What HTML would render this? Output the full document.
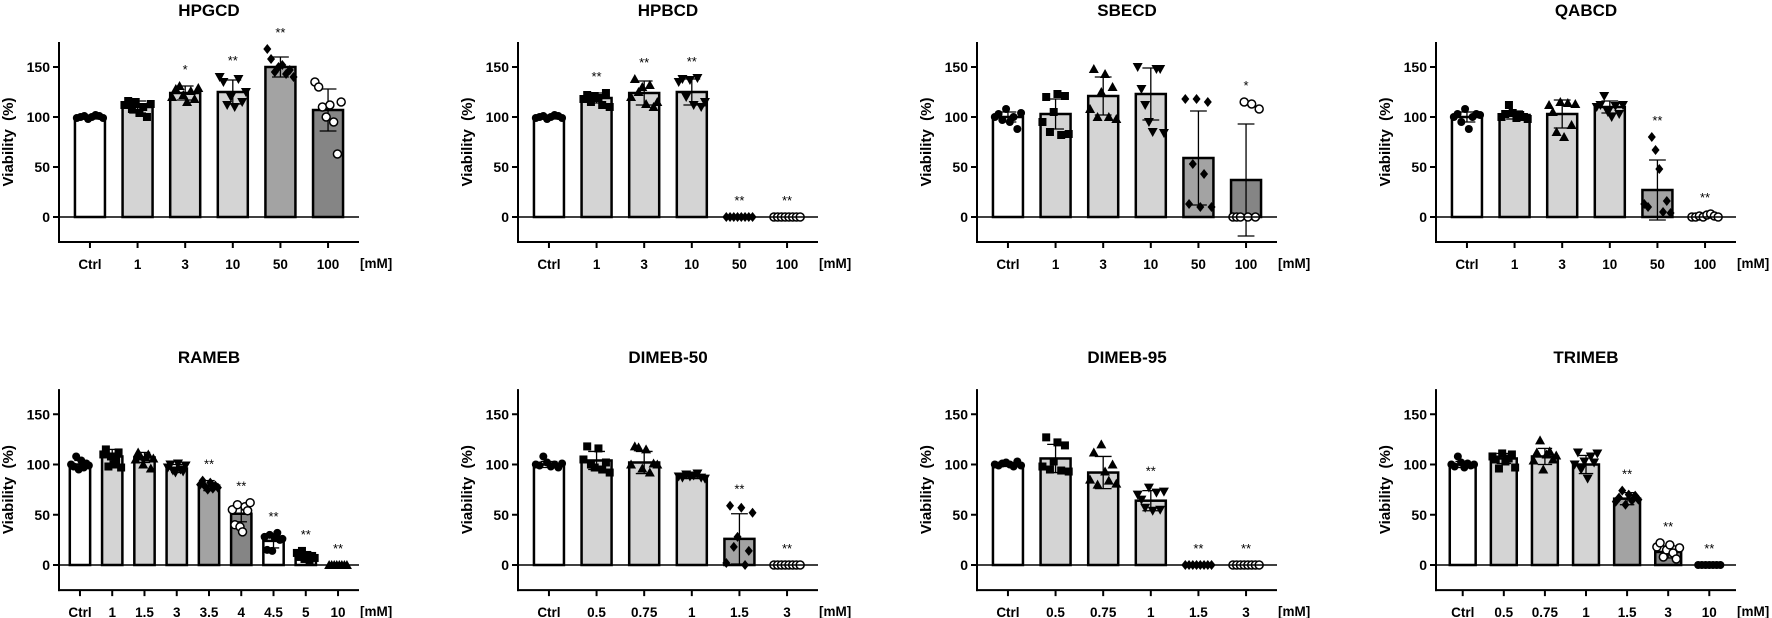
<!DOCTYPE html>
<html><head><meta charset="utf-8"><style>
html,body{margin:0;padding:0;background:#fff;}
svg{display:block;font-family:"Liberation Sans",Arial,sans-serif;}
.pre{white-space:pre;}
</style></head><body>
<svg id="fig" width="1772" height="618" viewBox="0 0 1772 618" xmlns="http://www.w3.org/2000/svg"></svg>
<script>
const titles=["HPGCD","HPBCD","SBECD","QABCD","RAMEB","DIMEB-50","DIMEB-95","TRIMEB"];
const categories=[
["Ctrl","1","3","10","50","100"],["Ctrl","1","3","10","50","100"],["Ctrl","1","3","10","50","100"],["Ctrl","1","3","10","50","100"],
["Ctrl","1","1.5","3","3.5","4","4.5","5","10"],["Ctrl","0.5","0.75","1","1.5","3"],["Ctrl","0.5","0.75","1","1.5","3"],["Ctrl","0.5","0.75","1","1.5","3","10"]];
const means=[
[100,110,124,125,150,107],[100,119,124,125,0,0],[100,103,121,123,59,37],[100,102,103,110,27,1],
[100,108,107,96,79,51,24,9,0],[100,104,102,88,26,0],[100,106,92,64,0,0],[100,106,108,100,66,13,0]];
const sds=[
[2,6,7,12,10,21],[2,5,12,13,0,0],[5,15,19,26,47,56],[5,4,14,6,30,1],
[4,7,5,4,5,8,7,4,0],[3,9,11,2,25,0],[2,14,16,10,0,0],[3,5,8,9,6,6,0]];
const fills=[
["W","L","L","L","M","D"],["W","L","L","L","M","D"],["W","L","L","L","M","D"],["W","L","L","L","M","D"],
["W","L","L","L","M","D","W","W","W"],["W","L","L","L","M","D"],["W","L","L","L","M","D"],["W","L","L","L","M","D","W"]];
const stars=[
["","","*","**","**",""],["","**","**","**","**","**"],["","","","","","*"],["","","","","**","**"],
["","","","","**","**","**","**","**"],["","","","","**","**"],["","","","**","**","**"],["","","","","**","**","**"]];
const points=[
[[99,100,101,98,100,102,101,99],[112,116,108,115,104,110,100,113],[120,128,131,122,115,126,118,129],[140,135,112,120,110,138,115,125],[168,158,145,150,152,143,147,140],[135,130,110,100,112,95,63,115]],
[[99,100,101,98,100,102,101,99],[118,122,115,121,119,112,124,110],[120,138,125,130,113,132,110,115],[135,138,120,137,112,139,110,115],[0,0,0,0,0,0,0,0],[0,0,0,0,0,0,0,0]],
[[100,103,97,108,95,100,88,104],[95,120,85,105,123,82,121,83],[108,148,100,125,143,100,130,98],[150,128,112,95,85,148,148,84],[118,13,53,118,10,43,115,10],[0,0,0,115,0,113,0,108]],
[[100,103,95,108,88,100,103,102],[100,103,112,104,99,102,100,98],[112,105,85,115,80,114,92,113],[110,112,121,105,100,111,103,112],[13,10,80,67,48,5,16,4],[0,0,1,0,2,3,1,0]],
[[100,98,108,95,104,97,101,99],[110,115,98,108,100,104,112,97],[105,112,108,100,107,110,96,106],[97,100,94,92,101,95,93,99],[80,84,78,75,82,76,79,77],[55,40,60,38,33,58,54,62],[28,15,30,14,27,32,25,26],[12,8,14,6,10,5,9,7],[0,0,0,0,0,0,0,0]],
[[100,99,108,102,98,100,97,101],[105,118,100,97,116,95,102,92],[100,118,117,96,115,92,101,100],[88,87,90,88,89,91,87,86],[2,59,18,28,57,0,14,52],[0,0,0,0,0,0,0,0]],
[[100,99,101,102,100,98,103,99],[98,127,95,103,122,94,119,93],[85,112,80,120,93,84,100,81],[70,65,57,77,54,72,55,73],[0,0,0,0,0,0,0,0],[0,0,0,0,0,0,0,0]],
[[100,98,108,102,97,101,99,100],[108,105,96,111,103,106,110,97],[104,112,124,95,110,113,105,109],[100,112,95,103,86,108,102,111],[63,67,74,60,70,64,69,65],[18,22,8,15,20,12,6,17],[0,0,0,0,0,0,0]]];
const yTicks=[150,100,50,0];

const colorMap={W:"#ffffff",L:"#d4d4d4",M:"#a3a3a3",D:"#858585"};
const markerTypes=["circle","square","triup","tridown","diamond","ocircle","circle","square","triup"];
const NS="http://www.w3.org/2000/svg";
const svg=document.getElementById("fig");
function mk(tag,attrs,parent){const e=document.createElementNS(NS,tag);for(const k in attrs)e.setAttribute(k,attrs[k]);(parent||svg).appendChild(e);return e;}

titles.forEach((title,p)=>{
  const row=Math.floor(p/4),col=p%4;
  const ax=59+col*459;
  const zero=row===0?217:565;
  const k=row===0?1.0:1.005;
  const y=v=>zero-v*k;
  const axLen=300;
  const n=categories[p].length;
  const s=axLen/(n-1+1.3);
  const pad=0.65*s;
  const bw=0.63*s;
  const xc=i=>ax+pad+i*s;
  const g=mk("g",{});
  
  
  const t=mk("text",{x:ax+150,y:(row===0?16:363),"text-anchor":"middle","font-size":"17","font-weight":"bold"},g);
  t.textContent=title;
  
  
  const yl=mk("text",{x:0,y:0,class:"pre",transform:`translate(${ax-46},${(y(175)+y(-25))/2}) rotate(-90)`,"text-anchor":"middle","font-size":"15","font-weight":"bold"},g);
  yl.textContent="Viability  (%)";
  
  
  const ya=mk("line",{x1:ax,y1:y(175),x2:ax,y2:y(-25)+1,stroke:"#000","stroke-width":2},g);
  
  
  const xa=mk("line",{x1:ax-1,y1:y(-25),x2:ax+axLen,y2:y(-25),stroke:"#000","stroke-width":2},g);
  
  
  yTicks.forEach(v=>{
    mk("line",{x1:ax-6,y1:y(v),x2:ax,y2:y(v),stroke:"#000","stroke-width":2},g);
    const tl=mk("text",{x:ax-9,y:y(v)+5,"text-anchor":"end","font-size":"14","font-weight":"bold"},g);
    tl.textContent=v;
    
    
  });
  categories[p].forEach((c,i)=>{
    const m=means[p][i],sd=sds[p][i];
    if(m>0.5){
      const b=mk("rect",{x:xc(i)-bw/2,y:y(m),width:bw,height:y(0)-y(m),fill:colorMap[fills[p][i]],stroke:"#000","stroke-width":2.5},g);
      
      
    }
    if(sd>0){
      mk("line",{x1:xc(i),y1:y(m+sd),x2:xc(i),y2:y(m-sd),stroke:"#000","stroke-width":1.3},g);
      mk("line",{x1:xc(i)-bw*0.28,y1:y(m+sd),x2:xc(i)+bw*0.28,y2:y(m+sd),stroke:"#000","stroke-width":1.3},g);
      mk("line",{x1:xc(i)-bw*0.28,y1:y(m-sd),x2:xc(i)+bw*0.28,y2:y(m-sd),stroke:"#000","stroke-width":1.3},g);
    }
    const pts=points[p][i];
    const mt=markerTypes[i];
    pts.forEach((v,j)=>{
      const px=xc(i)-bw/2+bw*(j+0.5)/pts.length;
      const py=y(v);const r=4;
      let e;
      if(mt==="circle") e=mk("circle",{cx:px,cy:py,r:r,fill:"#000"},g);
      else if(mt==="ocircle") e=mk("circle",{cx:px,cy:py,r:r,fill:"#fff",stroke:"#000","stroke-width":1.5},g);
      else if(mt==="square") e=mk("rect",{x:px-r,y:py-r,width:2*r,height:2*r,fill:"#000"},g);
      else if(mt==="triup") e=mk("polygon",{points:`${px},${py-r-1} ${px-r-1},${py+r} ${px+r+1},${py+r}`,fill:"#000"},g);
      else if(mt==="tridown") e=mk("polygon",{points:`${px},${py+r+1} ${px-r-1},${py-r} ${px+r+1},${py-r}`,fill:"#000"},g);
      else e=mk("polygon",{points:`${px},${py-r-1} ${px+r},${py} ${px},${py+r+1} ${px-r},${py}`,fill:"#000"},g);
      
      
    });
    if(stars[p][i]){
      const top=Math.max(m+sd,...pts);
      const st=mk("text",{x:xc(i),y:y(top)-12,"text-anchor":"middle","font-size":"13"},g);
      st.textContent=stars[p][i];
      
      
    }
    mk("line",{x1:xc(i),y1:y(-25),x2:xc(i),y2:y(-25)+6,stroke:"#000","stroke-width":2},g);
    const xl=mk("text",{x:xc(i),y:y(-25)+27,"text-anchor":"middle","font-size":"13.5","font-weight":"bold"},g);
    xl.textContent=c;
    
    
  });
  const zl=mk("line",{x1:ax,y1:y(0),x2:ax+axLen,y2:y(0),stroke:"#000","stroke-width":1.5},g);
  
  
  const u=mk("text",{x:ax+301,y:y(-25)+26,"font-size":"13.5","font-weight":"bold"},g);
  u.textContent="[mM]";
  
  
});
</script>
</body></html>
